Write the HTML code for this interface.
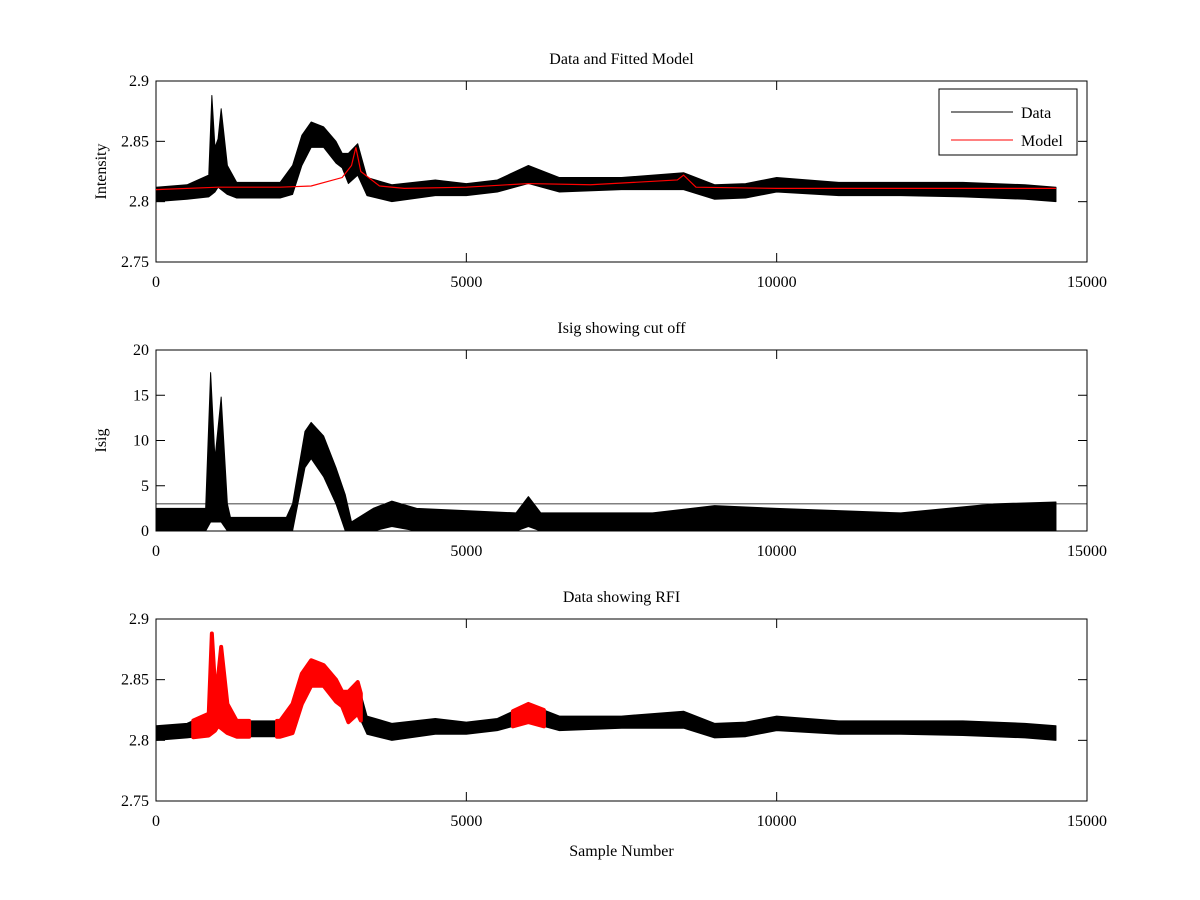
<!DOCTYPE html>
<html><head><meta charset="utf-8"><style>
body{margin:0;background:#fff}
svg{display:block;font-family:"Liberation Serif",serif}
text{font-size:16px;fill:#000}
</style></head><body>
<svg id="fig" width="1200" height="900" xmlns="http://www.w3.org/2000/svg"></svg>
<script>
// Data: sample positions and envelope (low/high) of noisy intensity
const dataX  =[0,500,850,900,950,1000,1050,1150,1300,2000,2200,2350,2500,2700,2900,3000,3100,3250,3400,3800,4500,5000,5500,6000,6500,7500,8500,9000,9500,10000,11000,12000,13000,14000,14500];
const dataLo =[2.800,2.802,2.804,2.806,2.808,2.812,2.810,2.806,2.803,2.803,2.806,2.830,2.845,2.845,2.832,2.828,2.815,2.822,2.805,2.800,2.805,2.805,2.808,2.815,2.808,2.810,2.810,2.802,2.803,2.808,2.805,2.805,2.804,2.802,2.800];
const dataHi =[2.812,2.814,2.822,2.888,2.845,2.852,2.877,2.830,2.816,2.816,2.830,2.855,2.866,2.862,2.850,2.840,2.840,2.848,2.820,2.814,2.818,2.815,2.818,2.830,2.820,2.820,2.824,2.814,2.815,2.820,2.816,2.816,2.816,2.814,2.812];
const modelX =[0,1000,2000,2500,3000,3150,3220,3300,3600,4000,5000,6000,7000,8400,8500,8700,10000,14500];
const modelY =[2.810,2.812,2.812,2.813,2.820,2.830,2.845,2.825,2.813,2.811,2.812,2.815,2.814,2.818,2.822,2.812,2.811,2.811];
const isigX  =[0,800,880,950,1050,1150,1200,2100,2200,2400,2500,2700,2900,3050,3150,3500,3800,4200,5800,6000,6200,8000,9000,10000,12000,13500,14500];
const isigLo =[0,0,1,1,1,0,0,0,0,7,8,6,3,0,0,0,0.5,0,0,0.5,0,0,0,0,0,0,0];
const isigHi =[2.5,2.5,17.5,8,14.8,3,1.5,1.5,3,11,12,10.5,7,4,1,2.5,3.3,2.5,2,3.8,2,2,2.8,2.5,2,3,3.2];
const cutoff = 3;
const rfiStart=[600,1950,5750];
const rfiEnd  =[1500,3300,6250];
const xTicks=[0,5000,10000,15000];
const yTicksA=[2.75,2.8,2.85,2.9];
const yTicksB=[0,5,10,15,20];

const NS="http://www.w3.org/2000/svg";
const svg=document.getElementById('fig');
function el(t,a,p){const e=document.createElementNS(NS,t);for(const k in a)e.setAttribute(k,a[k]);(p||svg).appendChild(e);return e;}
const X0=156,X1=1087;
const xs=v=>X0+(v/15000)*(X1-X0);
function axes(top,bot,ymin,ymax,yt,fmt,title,ylabel,name){
  const ys=v=>bot-(v-ymin)/(ymax-ymin)*(bot-top);
  const g=el('g',{});
  
  
  const r=el('rect',{x:X0,y:top,width:X1-X0,height:bot-top,fill:'none',stroke:'#000','stroke-width':1},g);
  
  xTicks.forEach(t=>{const x=xs(t);
    el('line',{x1:x,x2:x,y1:bot,y2:bot-9,stroke:'#000'},g);el('line',{x1:x,x2:x,y1:top,y2:top+9,stroke:'#000'},g);
    const tx=el('text',{x:x,y:bot+25,'text-anchor':'middle'},g);tx.textContent=t;
    });
  yt.forEach(t=>{const y=ys(t);
    el('line',{x1:X0,x2:X0+9,y1:y,y2:y,stroke:'#000'},g);el('line',{x1:X1,x2:X1-9,y1:y,y2:y,stroke:'#000'},g);
    const tx=el('text',{x:X0-7,y:y+5,'text-anchor':'end'},g);tx.textContent=fmt(t);
    });
  const tt=el('text',{x:(X0+X1)/2,y:top-17,'text-anchor':'middle'},g);tt.textContent=title;
  
  if(ylabel){const yl=el('text',{x:0,y:0,'text-anchor':'middle',transform:`translate(106,${(top+bot)/2}) rotate(-90)`},g);yl.textContent=ylabel;
    }
  return {ys,g};
}
function band(xa,lo,hi,ys,color,sw,from,to,parent){
  const idx=[];for(let i=0;i<xa.length;i++)idx.push(i);
  const interp=(arr,x)=>{for(let i=0;i<xa.length-1;i++)if(x>=xa[i]&&x<=xa[i+1]){const f=(x-xa[i])/(xa[i+1]-xa[i]);return arr[i]+f*(arr[i+1]-arr[i]);}return arr[arr.length-1];};
  let pts=[from,...xa.filter(x=>x>from&&x<to),to];
  const top=pts.map(x=>xs(x)+','+ys(interp(hi,x)));
  const bot=pts.slice().reverse().map(x=>xs(x)+','+ys(interp(lo,x)));
  const p=el('polygon',{points:top.concat(bot).join(' '),fill:color,stroke:color,'stroke-width':sw,'stroke-linejoin':'round'},parent);
  return p;
}
function fmtA(t){return t===2.8?'2.8':t===2.9?'2.9':t.toString();}
// Plot 1
let A=axes(81,262,2.75,2.9,yTicksA,fmtA,'Data and Fitted Model','Intensity','top-axes');
let p=band(dataX,dataLo,dataHi,A.ys,'#000',1,0,14500,A.g);

const ml=el('polyline',{points:modelX.map((x,i)=>xs(x)+','+A.ys(modelY[i])).join(' '),fill:'none',stroke:'#f00','stroke-width':1.2},A.g);

const lg=el('g',{});
el('rect',{x:939,y:89,width:138,height:66,fill:'#fff',stroke:'#000'},lg);
el('line',{x1:951,x2:1013,y1:112,y2:112,stroke:'#000'},lg);
el('line',{x1:951,x2:1013,y1:140,y2:140,stroke:'#f00'},lg);
let t1=el('text',{x:1021,y:118},lg);t1.textContent='Data';
let t2=el('text',{x:1021,y:146},lg);t2.textContent='Model';
// Plot 2
let B=axes(350,531,0,20,yTicksB,t=>t,'Isig showing cut off','Isig','middle-axes');
p=band(isigX,isigLo,isigHi,B.ys,'#000',1,0,14500,B.g);

const cl=el('line',{x1:X0,x2:X1,y1:B.ys(cutoff),y2:B.ys(cutoff),stroke:'#000','stroke-width':0.8},B.g);

// Plot 3
let C=axes(619,801,2.75,2.9,yTicksA,fmtA,'Data showing RFI',null,'bottom-axes');
p=band(dataX,dataLo,dataHi,C.ys,'#000',1,0,14500,C.g);

rfiStart.forEach((s,i)=>{const r=band(dataX,dataLo,dataHi,C.ys,'#f00',4,s,rfiEnd[i],C.g);
  });
const xl=el('text',{x:(X0+X1)/2,y:856,'text-anchor':'middle'});xl.textContent='Sample Number';

</script>
</body></html>
